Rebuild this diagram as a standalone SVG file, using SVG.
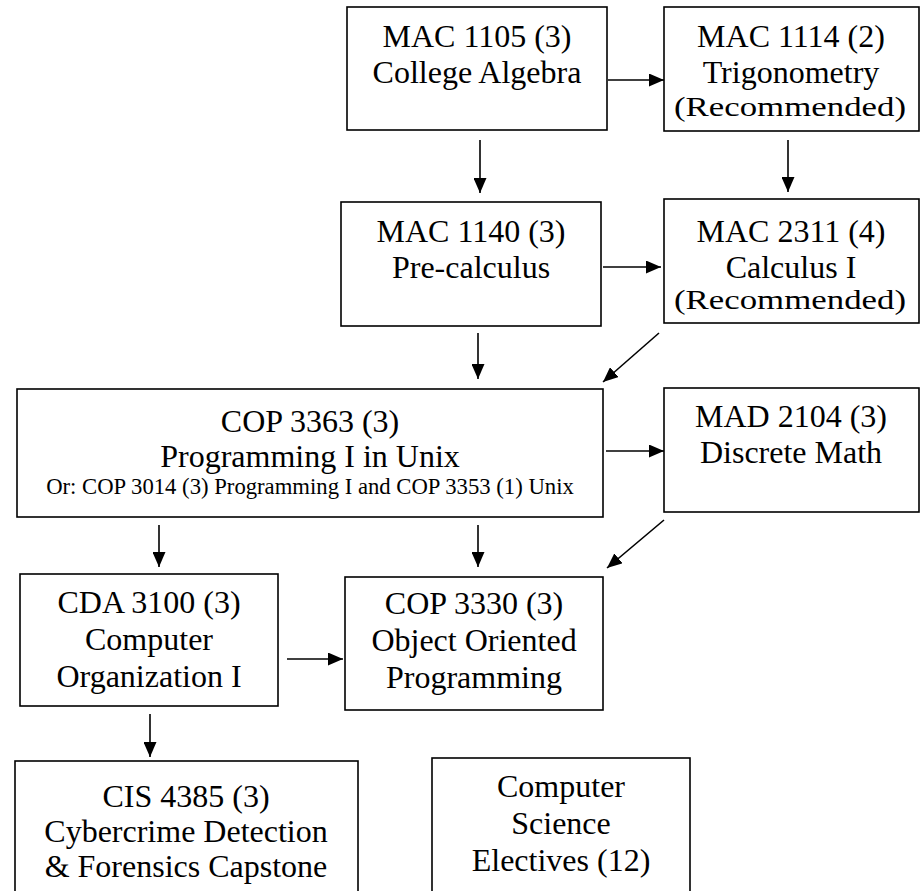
<svg xmlns="http://www.w3.org/2000/svg" width="921" height="891" viewBox="0 0 921 891">
<style>
rect.box{fill:#fff;stroke:#000;stroke-width:1.6}
text{font-family:"Liberation Serif","Times New Roman",serif;font-size:32px;fill:#000;text-anchor:middle}
text.sm{font-size:28px}
text.xs{font-size:22.7px}
.conn line{stroke:#000;stroke-width:1.6}
</style>
<defs>
<marker id="ah" viewBox="0 0 15 13" refX="15" refY="6.5" markerWidth="15" markerHeight="13" markerUnits="userSpaceOnUse" orient="auto">
<path d="M0,0 L15,6.5 L0,13 Z" fill="#000"/>
</marker>
</defs>
<rect width="921" height="891" fill="#fff"/>
<g id="mac1105"><rect class="box" x="347" y="7" width="260" height="123"/>
<text x="477" y="47">MAC 1105 (3)</text><text x="477" y="83">College Algebra</text></g>
<g id="mac1114"><rect class="box" x="664" y="7" width="255" height="124"/>
<text x="791" y="47">MAC 1114 (2)</text><text x="791" y="83">Trigonometry</text><text class="sm" x="790" y="116" textLength="232" lengthAdjust="spacingAndGlyphs">(Recommended)</text></g>
<g id="mac1140"><rect class="box" x="341" y="202" width="260" height="124"/>
<text x="471" y="242">MAC 1140 (3)</text><text x="471" y="278">Pre-calculus</text></g>
<g id="mac2311"><rect class="box" x="664" y="199" width="255" height="124"/>
<text x="791" y="242">MAC 2311 (4)</text><text x="791" y="278">Calculus I</text><text class="sm" x="790" y="309" textLength="232" lengthAdjust="spacingAndGlyphs">(Recommended)</text></g>
<g id="cop3363"><rect class="box" x="17" y="389" width="586" height="128"/>
<text x="310" y="432">COP 3363 (3)</text><text x="310" y="467">Programming I in Unix</text><text class="xs" x="310" y="494">Or: COP 3014 (3) Programming I and COP 3353 (1) Unix</text></g>
<g id="mad2104"><rect class="box" x="664" y="388" width="255" height="124"/>
<text x="791" y="427">MAD 2104 (3)</text><text x="791" y="463">Discrete Math</text></g>
<g id="cda3100"><rect class="box" x="20" y="574" width="258" height="132"/>
<text x="149" y="613">CDA 3100 (3)</text><text x="149" y="650">Computer</text><text x="149" y="687">Organization I</text></g>
<g id="cop3330"><rect class="box" x="345" y="577" width="258" height="133"/>
<text x="474" y="614">COP 3330 (3)</text><text x="474" y="651">Object Oriented</text><text x="474" y="688">Programming</text></g>
<g id="cis4385"><rect class="box" x="15" y="761" width="343" height="145"/>
<text x="186" y="807">CIS 4385 (3)</text><text x="186" y="842">Cybercrime Detection</text><text x="186" y="877">&amp; Forensics Capstone</text></g>
<g id="electives"><rect class="box" x="432" y="758" width="258" height="148"/>
<text x="561" y="797">Computer</text><text x="561" y="834">Science</text><text x="561" y="871">Electives (12)</text></g>
<g id="connectors" class="conn">
<line x1="608" y1="80" x2="664" y2="80" marker-end="url(#ah)"/>
<line x1="480" y1="140" x2="480" y2="193" marker-end="url(#ah)"/>
<line x1="788" y1="140" x2="788" y2="192" marker-end="url(#ah)"/>
<line x1="603" y1="267" x2="661" y2="267" marker-end="url(#ah)"/>
<line x1="478" y1="333" x2="478" y2="379" marker-end="url(#ah)"/>
<line x1="659" y1="333" x2="603" y2="382" marker-end="url(#ah)"/>
<line x1="606" y1="451" x2="664" y2="451" marker-end="url(#ah)"/>
<line x1="159" y1="525" x2="159" y2="567" marker-end="url(#ah)"/>
<line x1="478" y1="525" x2="478" y2="567" marker-end="url(#ah)"/>
<line x1="664" y1="520" x2="607" y2="568" marker-end="url(#ah)"/>
<line x1="287" y1="659" x2="343" y2="659" marker-end="url(#ah)"/>
<line x1="150" y1="714" x2="150" y2="757" marker-end="url(#ah)"/>
</g>
</svg>
